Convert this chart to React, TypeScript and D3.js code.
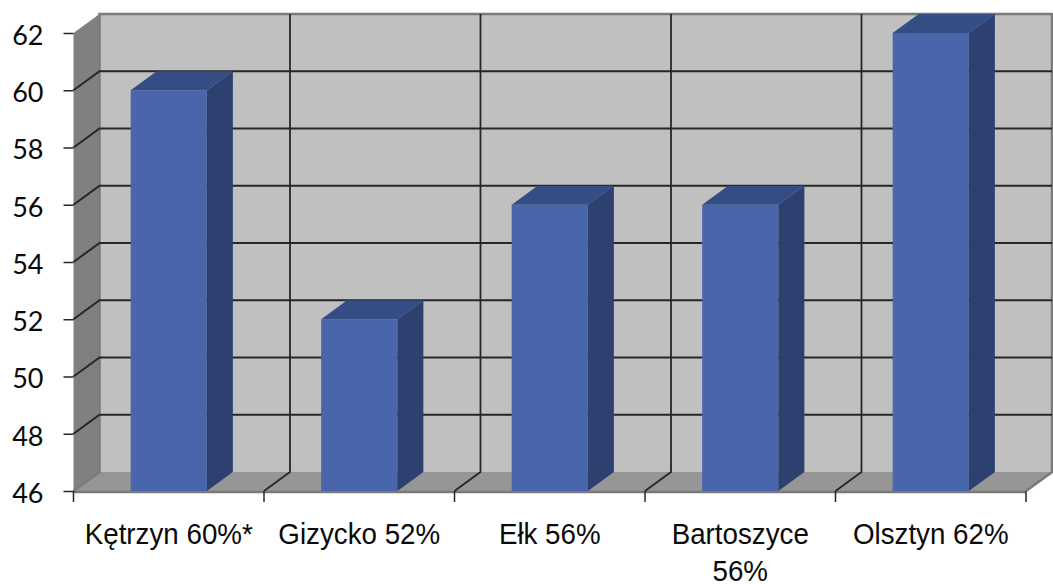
import { useEffect, useRef } from 'react';
import * as d3 from 'd3';

const cities = ['Kętrzyn 60%*', 'Gizycko 52%', 'Ełk 56%', 'Bartoszyce 56%', 'Olsztyn 62%'];
const values = [60, 52, 56, 56, 62];
const yTicks = [46, 48, 50, 52, 54, 56, 58, 60, 62];

const width = 1053;
const height = 588;
const margin = { left: 73.5, right: 1026, top: 33, bottom: 491 };
const depth = { x: 26, y: -19 };

const colors = {
    wall: '#c0c0c0',
    side: '#808080',
    floor: '#969696',
    front: '#4a66ac',
    top: '#354e85',
    right: '#2d3f6f',
    grid: '#262626',
    edge: '#7a7a7a',
};

const xScale = d3.scaleBand<string>().domain(cities).range([margin.left, margin.right]);
const yScale = d3.scaleLinear().domain([46, 62]).range([margin.bottom, margin.top]);

const barWidth = xScale.bandwidth() * 0.4;
const labelStretch = 0.925;
const poly = d3.line<[number, number]>();

function splitLabel(label: string) {
    // only Bartoszyce wraps in the original
    return label.startsWith('Bartoszyce') ? label.split(' ') : [label];
}

export default function App() {
    const yAxisEl = useRef<SVGGElement>(null);

    useEffect(() => {
        if (!yAxisEl.current) return;
        d3.select(yAxisEl.current)
            .call(d3.axisLeft(yScale).tickValues(yTicks).tickSize(10).tickPadding(20) as any)
            .call((g) => g.select('.domain').remove())
            .call((g) => g.selectAll('.tick line').attr('stroke', colors.grid).attr('stroke-width', 1.5))
            .call((g) =>
                g
                    .selectAll('.tick text')
                    .attr('fill', '#0a0a0a')
                    .attr('dy', '0.42em')
                    .attr('font-family', 'Lato, "Open Sans", sans-serif')
                    .attr('font-size', 27)
            );
    }, []);

    const xEdges = [...cities.map((c) => xScale(c) as number), margin.right];
    const y0 = yScale(46);
    const y1 = yScale(62);
    const bx = depth.x;
    const by = depth.y;

    return (
        <svg
            width={width}
            height={height}
            viewBox={`0 0 ${width} ${height}`}
            style={{ position: 'absolute', left: 0, top: 0, background: '#fff' }}
        >
            <defs>
                <filter id="soft" x="-5%" y="-5%" width="110%" height="110%">
                    <feGaussianBlur stdDeviation="0.6" />
                </filter>
            </defs>
            <g filter="url(#soft)">
                {/* back wall, side wall, floor */}
                <rect x={margin.left + bx} y={y1 + by} width={margin.right - margin.left} height={y0 - y1} fill={colors.wall} />
                <path
                    d={poly([[margin.left, y1], [margin.left + bx, y1 + by], [margin.left + bx, y0 + by], [margin.left, y0]]) + 'Z'}
                    fill={colors.side}
                />
                <path
                    d={poly([[margin.left, y0], [margin.left + bx, y0 + by], [margin.right + bx, y0 + by], [margin.right, y0]]) + 'Z'}
                    fill={colors.floor}
                />
                <path
                    d={poly([[margin.left, y0], [margin.left + bx, y0 + by], [margin.left + bx, y1 + by], [margin.right + bx, y1 + by], [margin.right + bx, y0 + by], [margin.right, y0]])!}
                    fill="none"
                    stroke={colors.edge}
                    strokeWidth={2.5}
                />
                <line x1={margin.left} x2={margin.right} y1={y0 + 1} y2={y0 + 1} stroke={colors.edge} strokeWidth={2.5} />

                {/* gridlines */}
                {yTicks.slice(1, -1).map((t) => (
                    <path
                        key={t}
                        d={poly([[margin.left, yScale(t)], [margin.left + bx, yScale(t) + by], [margin.right + bx, yScale(t) + by]])!}
                        fill="none"
                        stroke={colors.grid}
                        strokeWidth={2}
                    />
                ))}
                {xEdges.slice(1, -1).map((x, i) => (
                    <path
                        key={i}
                        d={poly([[x, y0], [x + bx, y0 + by], [x + bx, y1 + by]])!}
                        fill="none"
                        stroke={colors.grid}
                        strokeWidth={1.8}
                    />
                ))}

                {/* bars */}
                {cities.map((c, i) => {
                    const x = (xScale(c) as number) + (xScale.bandwidth() - barWidth) / 2;
                    const y = yScale(values[i]);
                    return (
                        <g key={c}>
                            <rect x={x} y={y} width={barWidth} height={y0 - y} fill={colors.front} />
                            <path
                                d={poly([[x, y], [x + bx, y + by], [x + barWidth + bx, y + by], [x + barWidth, y]]) + 'Z'}
                                fill={colors.top}
                            />
                            <path
                                d={poly([[x + barWidth, y], [x + barWidth + bx, y + by], [x + barWidth + bx, y0 + by], [x + barWidth, y0]]) + 'Z'}
                                fill={colors.right}
                            />
                        </g>
                    );
                })}

                {/* bottom ticks */}
                {xEdges.map((x, i) => (
                    <line key={i} x1={x} x2={x} y1={y0} y2={y0 + 11} stroke={colors.grid} strokeWidth={1.5} />
                ))}
            </g>

            <g ref={yAxisEl} transform={`translate(${margin.left}, 0)`} />

            {cities.map((c) => {
                const cx = (xScale(c) as number) + xScale.bandwidth() / 2;
                return (
                    <text
                        key={c}
                        transform={`translate(${cx}, 544) scale(${labelStretch}, 1)`}
                        textAnchor="middle"
                        fontFamily='"Liberation Sans", sans-serif'
                        fontSize={30}
                        fill="#0a0a0a"
                    >
                        {splitLabel(c).map((line, j) => (
                            <tspan key={j} x={0} dy={j === 0 ? 0 : 37}>
                                {line}
                            </tspan>
                        ))}
                    </text>
                );
            })}
        </svg>
    );
}
